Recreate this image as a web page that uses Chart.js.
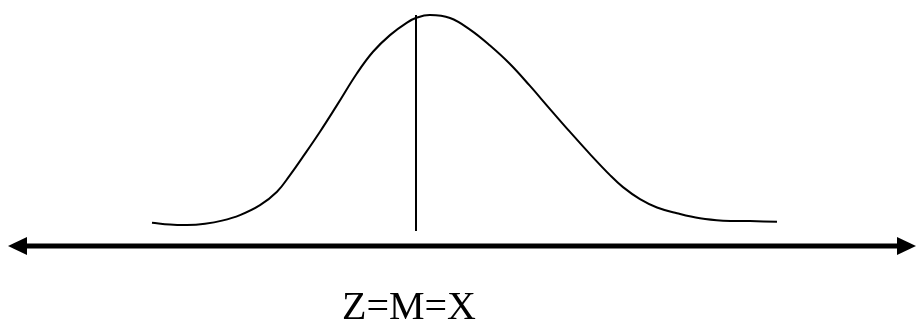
<!DOCTYPE html>
<html>
<head>
<meta charset="utf-8">
<script src="https://cdn.jsdelivr.net/npm/chart.js@4/dist/chart.umd.min.js"></script>
<style>
  html, body { margin: 0; padding: 0; background: #fff; }
  #wrap { width: 917px; height: 320px; }
</style>
</head>
<body>
<div id="wrap"><canvas id="bell"></canvas></div>
<script>
// curve: x in z units, y relative to the peak height
const curveX = [-2.64, -2.46, -2.29, -2.11, -1.94, -1.76, -1.56, -1.39, -1.26, -1.13, -0.96, -0.79, -0.59, -0.43,
  -0.26, -0.09, 0.01, 0.14, 0.34, 0.54, 0.74, 0.94, 1.14, 1.34, 1.54, 1.74, 1.94, 2.07, 2.24, 2.41, 2.61, 2.84,
  3.07, 3.34, 3.61];
const curveY = [0.101, 0.093, 0.091, 0.097, 0.110, 0.134, 0.177, 0.235, 0.307, 0.387, 0.495, 0.610, 0.748, 0.841,
  0.913, 0.967, 0.989, 1.0, 0.987, 0.937, 0.868, 0.788, 0.693, 0.593, 0.494, 0.398, 0.307, 0.255, 0.203, 0.167,
  0.142, 0.120, 0.110, 0.108, 0.105];

// centre line (mean = median = mode)
const centreX = [0, 0];
const centreY = [1.0, 0.065];

// horizontal axis with arrows at both ends
const axisEnds = [-4.08, 5.0];
const axisLabel = 'Z=M=X';
const labelX = -0.07;
const labelY = -0.316;

const toPoints = (xs, ys) => xs.map((x, i) => ({ x: x, y: ys[i] }));

// draws the double-headed axis and the label under it
const arrowAxis = {
  id: 'arrowAxis',
  afterDatasetsDraw(chart) {
    const ctx = chart.ctx;
    const xs = chart.scales.x, ys = chart.scales.y;
    const y0 = ys.getPixelForValue(0);
    const x1 = xs.getPixelForValue(axisEnds[0]);
    const x2 = xs.getPixelForValue(axisEnds[1]);
    const head = 19, half = 9;
    ctx.save();
    ctx.fillStyle = '#000';
    ctx.strokeStyle = '#000';
    ctx.lineWidth = 5;
    ctx.beginPath();
    ctx.moveTo(x1 + head - 2, y0);
    ctx.lineTo(x2 - head + 2, y0);
    ctx.stroke();
    ctx.beginPath();
    ctx.moveTo(x1, y0);
    ctx.lineTo(x1 + head, y0 - half);
    ctx.lineTo(x1 + head, y0 + half);
    ctx.closePath();
    ctx.fill();
    ctx.beginPath();
    ctx.moveTo(x2, y0);
    ctx.lineTo(x2 - head, y0 - half);
    ctx.lineTo(x2 - head, y0 + half);
    ctx.closePath();
    ctx.fill();

    ctx.font = '40px "Liberation Serif", "Times New Roman", serif';
    ctx.textAlign = 'center';
    ctx.textBaseline = 'alphabetic';
    ctx.fillText(axisLabel, xs.getPixelForValue(labelX), ys.getPixelForValue(labelY));
    ctx.restore();
  }
};

new Chart(document.getElementById('bell'), {
  type: 'line',
  data: {
    datasets: [
      {
        data: toPoints(curveX, curveY),
        borderColor: '#000',
        borderWidth: 2,
        pointRadius: 0,
        tension: 0.4
      },
      {
        data: toPoints(centreX, centreY),
        borderColor: '#000',
        borderWidth: 2,
        pointRadius: 0
      }
    ]
  },
  options: {
    responsive: true,
    maintainAspectRatio: false,
    animation: false,
    layout: { padding: 0 },
    plugins: {
      legend: { display: false },
      tooltip: { enabled: false }
    },
    scales: {
      x: { type: 'linear', min: -4.16, max: 5.01, display: false },
      y: { type: 'linear', min: -0.32, max: 1.065, display: false }
    }
  },
  plugins: [arrowAxis]
});
</script>
</body>
</html>
